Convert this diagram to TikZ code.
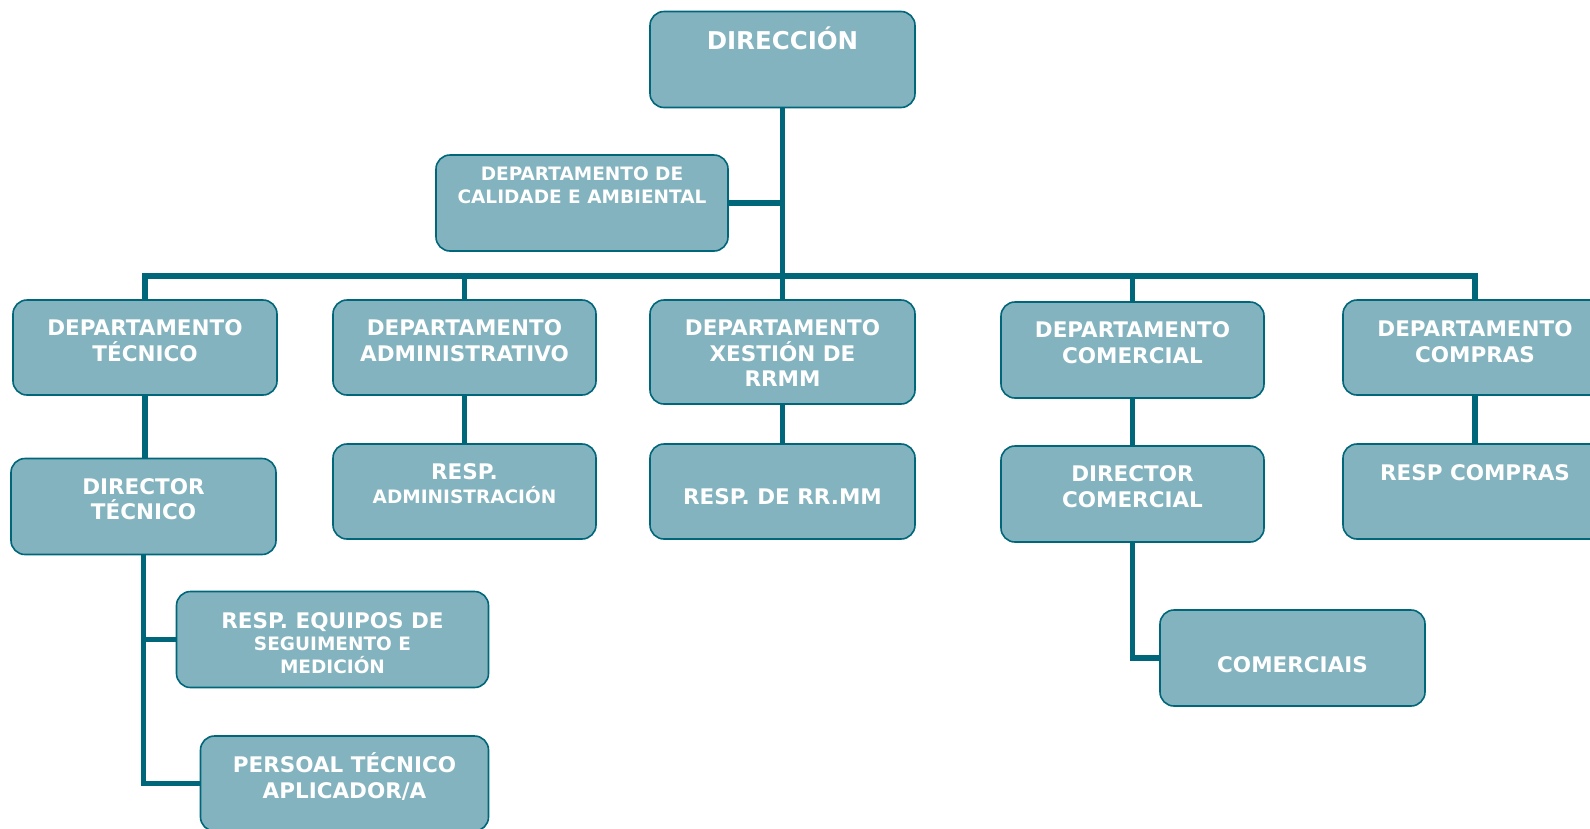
\documentclass[tikz,border=0pt]{standalone}
\usepackage{fontspec}
\setmainfont{DejaVu Sans}
\definecolor{boxfill}{RGB}{130,179,190}
\definecolor{lineteal}{RGB}{0,103,122}
\newcommand\fntA{\bfseries\fontsize{21.5}{25.5}\selectfont}
\newcommand\fntB{\bfseries\fontsize{18.5}{25.5}\selectfont}
\newcommand\fntC{\bfseries\fontsize{24.5}{28}\selectfont}
\begin{document}
\begin{tikzpicture}[x=1pt,y=-1pt,
  box/.style={draw=lineteal, fill=boxfill, line width=1.6pt, rounded corners=14pt, inner sep=0pt, outer sep=0pt},
  conn/.style={draw=lineteal, line width=5.5pt},
  lbl/.style={text=white, align=center, anchor=base, inner sep=0pt, font=\fntA}]
\useasboundingbox (0,0) rectangle (1590,828);
% boxes
\node[box, minimum width=265pt, minimum height=96pt] (dir)  at (782.5,59.5) {};
\node[box, minimum width=292pt, minimum height=96pt] (cal)  at (582,203) {};
\node[box, minimum width=264pt, minimum height=95pt] (dtec) at (145,347.5) {};
\node[box, minimum width=263pt, minimum height=95pt] (dadm) at (464.5,347.5) {};
\node[box, minimum width=265pt, minimum height=104pt] (dxes) at (782.5,352) {};
\node[box, minimum width=263pt, minimum height=96pt] (dcom) at (1132.5,350) {};
\node[box, minimum width=264pt, minimum height=95pt] (dcmp) at (1475,347.5) {};
\node[box, minimum width=265pt, minimum height=96pt] (rtec) at (143.5,506.5) {};
\node[box, minimum width=263pt, minimum height=95pt] (radm) at (464.5,491.5) {};
\node[box, minimum width=265pt, minimum height=95pt] (rrmm) at (782.5,491.5) {};
\node[box, minimum width=263pt, minimum height=96pt] (rcom) at (1132.5,494) {};
\node[box, minimum width=264pt, minimum height=95pt] (rcmp) at (1475,491.5) {};
\node[box, minimum width=312pt, minimum height=96pt] (equ)  at (332.5,639.5) {};
\node[box, minimum width=288pt, minimum height=95pt] (per)  at (344.5,783.5) {};
\node[box, minimum width=265pt, minimum height=96pt] (coms) at (1292.5,658) {};
% connectors
\coordinate (bus) at (782.5,276);
\draw[conn] (dir.south) -- (dxes.north);
\draw[conn] (cal.east) -- (cal.east -| dir.south);
\draw[conn] (dtec.north) -- (dtec.north |- bus) -- (dcmp.north |- bus) -- (dcmp.north);
\draw[conn] (dadm.north) -- (dadm.north |- bus);
\draw[conn] (dcom.north) -- (dcom.north |- bus);
\draw[conn] (dtec.south) -- (dtec.south |- rtec.north);
\draw[conn] (dadm.south) -- (radm.north);
\draw[conn] (dxes.south) -- (rrmm.north);
\draw[conn] (dcom.south) -- (rcom.north);
\draw[conn] (dcmp.south) -- (rcmp.north);
\draw[conn] (rtec.south) |- (per.west);
\draw[conn] (rtec.south |- equ.west) -- (equ.west);
\draw[conn] (rcom.south) |- (coms.west);
% labels (anchor = baseline of the last line)
\node[lbl] (tdir)  at (782.5,49) {\fntC DIRECCIÓN};
\node[lbl, font=\fntB] (tcal) at (582,203.3) {DEPARTAMENTO DE\\[-2.2pt]CALIDADE E AMBIENTAL};
\node[lbl] (tdtec) at (145,361) {DEPARTAMENTO\\TÉCNICO};
\node[lbl] (tdadm) at (464.5,361) {DEPARTAMENTO\\ADMINISTRATIVO};
\node[lbl] (tdxes) at (782.5,386.5) {DEPARTAMENTO\\XESTIÓN DE\\RRMM};
\node[lbl] (tdcom) at (1132.5,363) {DEPARTAMENTO\\COMERCIAL};
\node[lbl] (tdcmp) at (1475,362) {DEPARTAMENTO\\COMPRAS};
\node[lbl] (trtec) at (143.5,519.5) {DIRECTOR\\TÉCNICO};
\node[lbl] (tradm) at (464.5,503.5) {RESP.\\[-1.2pt]\fntB ADMINISTRACIÓN};
\node[lbl] (trrmm) at (782.5,504.5) {RESP. DE RR.MM};
\node[lbl] (trcom) at (1132.5,507) {DIRECTOR\\COMERCIAL};
\node[lbl] (trcmp) at (1475,480.5) {RESP COMPRAS};
\node[lbl] (tequ)  at (332.5,673.3) {RESP. EQUIPOS DE\\[-3.1pt]\fntB SEGUIMENTO E\\[-2.9pt]\fntB MEDICIÓN};
\node[lbl] (tper)  at (344.5,798.3) {PERSOAL TÉCNICO\\APLICADOR/A};
\node[lbl] (tcoms) at (1292.5,672) {COMERCIAIS};
\end{tikzpicture}
\end{document}
